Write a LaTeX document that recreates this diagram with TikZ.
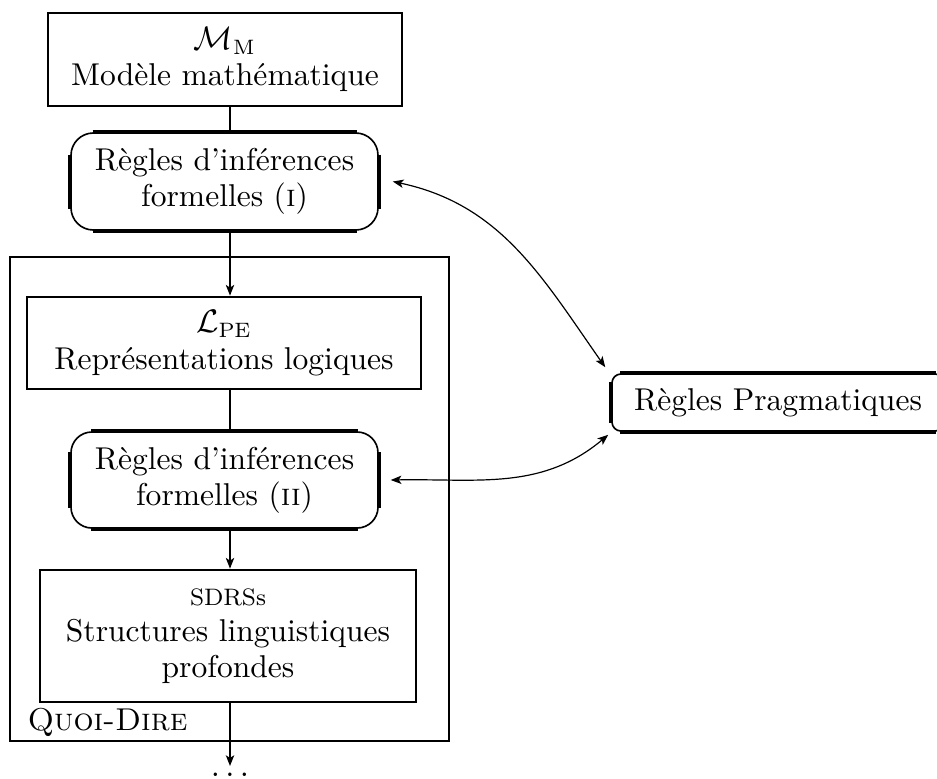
\documentclass[tikz,border=0pt]{standalone}
\usetikzlibrary{arrows.meta}
% heavier straight sides on a rounded frame, corners stay thin
\newcommand\boldsides[2]{%
  \draw[side] ([xshift=#2]#1.north west) -- ([xshift=-#2]#1.north east)
              ([xshift=#2]#1.south west) -- ([xshift=-#2]#1.south east)
              ([yshift=-#2]#1.north west) -- ([yshift=#2]#1.south west)
              ([yshift=-#2]#1.north east) -- ([yshift=#2]#1.south east);}
\begin{document}
\begin{tikzpicture}[x=0.336pt,y=0.336pt,
  font=\fontsize{10.6}{12.2}\selectfont,
  frame/.style={draw, line width=0.9pt, inner sep=0pt, align=center},
  rframe/.style={draw, rounded corners=#1, line width=0.55pt, inner sep=0pt, align=center},
  side/.style={line width=1.25pt},
  link/.style={line width=0.5pt},
  thinlink/.style={line width=0.4pt},
  tip/.style={-{Stealth[length=3.6pt,width=2.8pt,inset=0.9pt]}},
  both/.style={arrows={Stealth[length=3.6pt,width=2.8pt,inset=0.9pt]-Stealth[length=3.6pt,width=2.8pt,inset=0.9pt]}},
  boxsize/.style 2 args={minimum width=#1*0.336pt, minimum height=#2*0.336pt}]
\useasboundingbox (0,0) rectangle (937,-778);

% the chain of representations
\node[frame, boxsize={354}{93}] (model) at (225,-59.5)
  {$\mathcal{M}_{\mathrm{M}}$\\ Modèle mathématique};
\node[rframe=7.5pt, boxsize={307}{97}] (infI) at (224.5,-181.5)
  {Règles d’inférences\\ formelles (\textsc{i})};
\boldsides{infI}{7.5pt}

% the Quoi-Dire module
\node[draw, line width=0.75pt, inner sep=0pt, boxsize={439}{484}] (quoi) at (229.5,-499) {};
\node[anchor=base west, inner sep=0pt] (qlabel) at (27,-730) {\textsc{Quoi-Dire}};

\node[frame, boxsize={394}{92}] (lpe) at (224,-343)
  {$\mathcal{L}_{\mathrm{PE}}$\\ Représentations logiques};
\node[rframe=7pt, boxsize={307}{96}] (infII) at (224.5,-480)
  {Règles d’inférences\\ formelles (\textsc{ii})};
\boldsides{infII}{7pt}
\node[frame, boxsize={376}{132}] (sdrs) at (228,-636)
  {{\footnotesize SDRSs}\\ Structures linguistiques\\ profondes};

% pragmatic rules
\node[rframe=3pt, boxsize={332}{57}] (prag) at (778,-402.5) {Règles Pragmatiques};
\boldsides{prag}{3pt}

% vertical flow
\coordinate (axis) at (230,0);
\draw[link] (model.south -| axis) -- (infI.north -| axis);
\draw[link,tip] (infI.south -| axis) -- (lpe.north -| axis);
\draw[link] (lpe.south -| axis) -- (infII.north -| axis);
\draw[link,tip] (infII.south -| axis) -- (sdrs.north -| axis);
\coordinate (next) at (230,-766);
\draw[link,tip] (sdrs.south -| axis) -- (next);
\node[anchor=north, inner sep=0pt, yshift=-2pt] (more) at (next) {$\ldots$};

% interaction with the pragmatic rules
\draw[thinlink,both] ([xshift=4.7pt]infI.east) to[out=-12, in=125]
  ([shift={(-2pt,2pt)}]prag.north west);
\draw[thinlink,both] ([xshift=4pt]infII.east) to[out=1, in=-140]
  ([shift={(-1pt,-1pt)}]prag.south west);
\end{tikzpicture}
\end{document}
